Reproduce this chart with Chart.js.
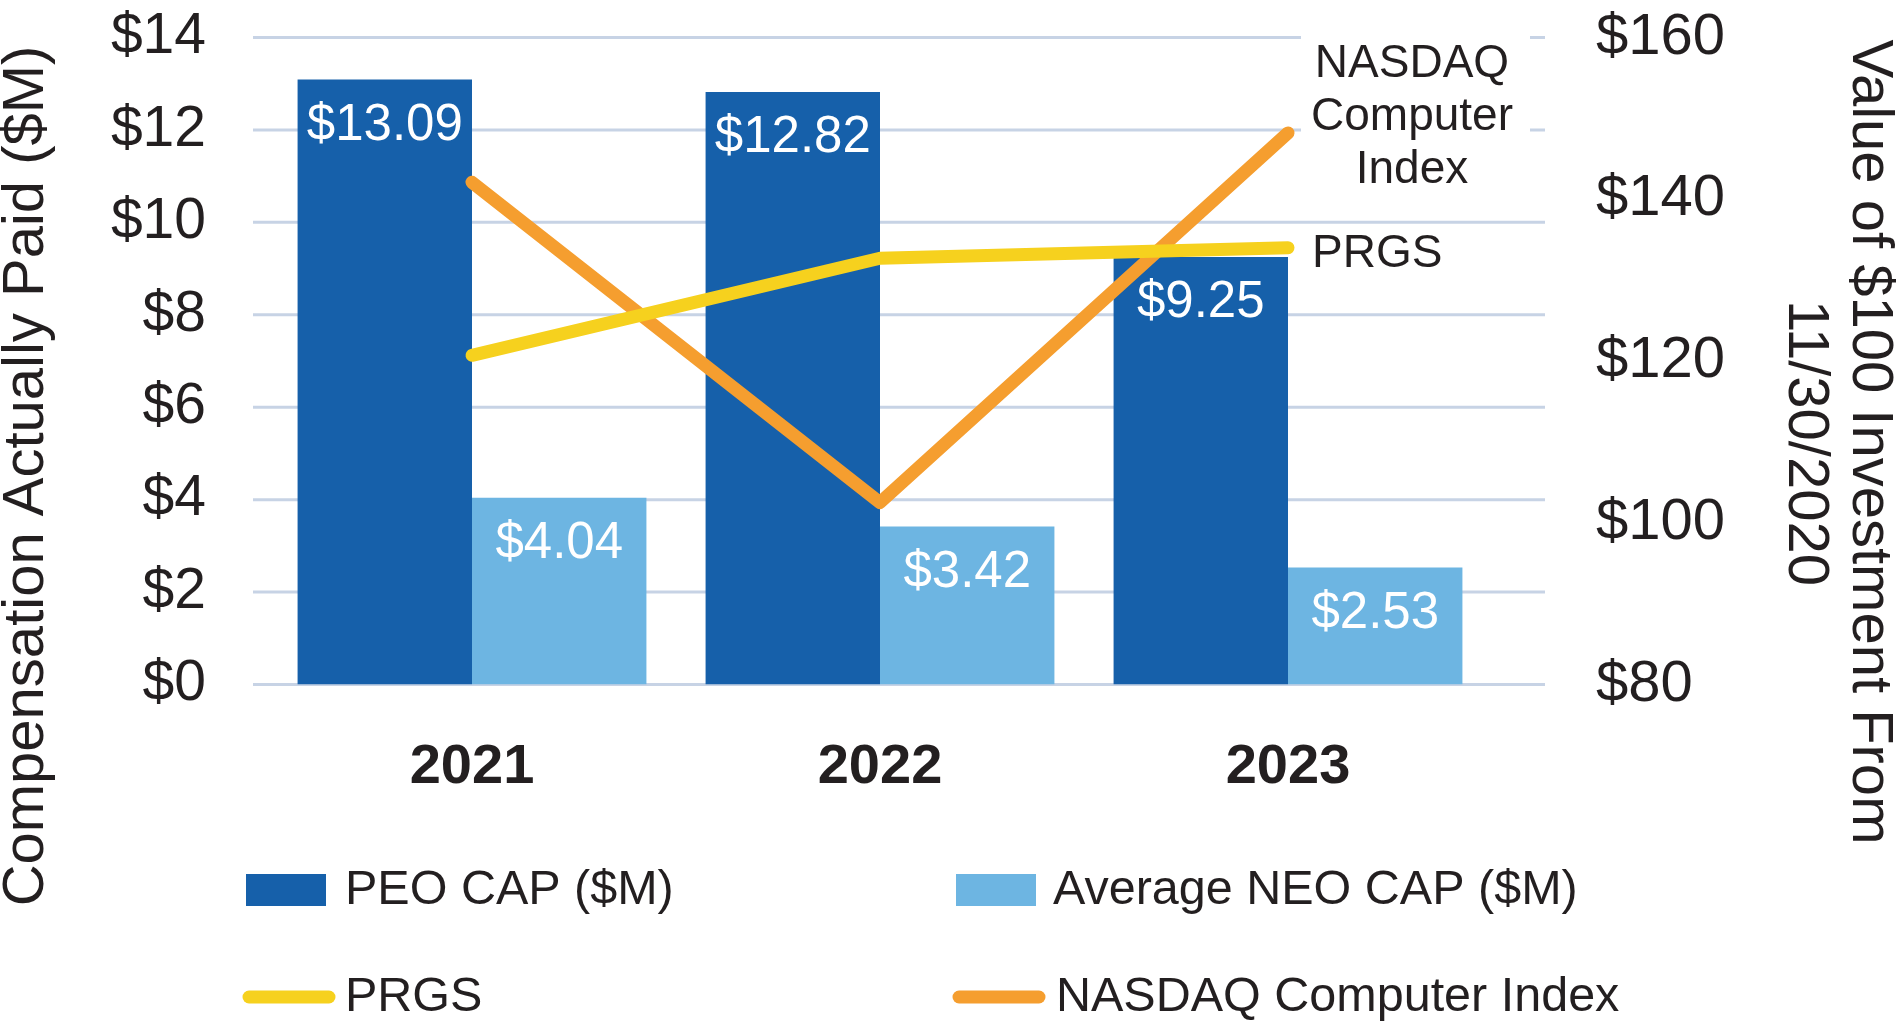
<!DOCTYPE html>
<html>
<head>
<meta charset="utf-8">
<script src="https://cdn.jsdelivr.net/npm/chart.js@4.4.1/dist/chart.umd.min.js"></script>
<style>
  html, body { margin: 0; padding: 0; background: #fff; }
  #wrap { position: relative; width: 1903px; height: 1025px; }
</style>
</head>
<body>
<div id="wrap"><canvas id="myChart"></canvas></div>
<script>
// 資料
var years = ['2021', '2022', '2023'];
var peoCap = [13.09, 12.82, 9.25];
var neoCap = [4.04, 3.42, 2.53];
var prgs = [120.7, 132.7, 134.0];
var nasdaq = [142.1, 102.5, 148.2];
var leftTicks = [0, 2, 4, 6, 8, 10, 12, 14];
var rightTicks = [80, 100, 120, 140, 160];

var FONT = "'Liberation Sans', Arial, Helvetica, sans-serif";
var TEXT = '#231F20';
Chart.defaults.font.family = FONT;

// 格線 + 右側標註
const decor = {
    id: 'decor',
    beforeDatasetsDraw: (chart) => {
        const ctx = chart.ctx;
        const area = chart.chartArea;
        const y = chart.scales.y;
        ctx.save();
        ctx.strokeStyle = '#C7D3E5';
        ctx.lineWidth = 3;
        y.ticks.forEach(function (t) {
            var py = y.getPixelForValue(t.value);
            ctx.beginPath();
            ctx.moveTo(area.left - 15, py);
            ctx.lineTo(area.right + 53, py);
            ctx.stroke();
        });
        // 標註背後的白底
        var last = chart.getDatasetMeta(3).data[2];
        ctx.fillStyle = '#fff';
        ctx.fillRect(last.x + 13, last.y - 108, 229, 175);
        ctx.restore();
    },
    afterDatasetsDraw: (chart) => {
        const ctx = chart.ctx;
        ctx.save();
        // 長條數值
        ctx.fillStyle = '#fff';
        ctx.font = '51px ' + FONT;
        ctx.textAlign = 'center';
        ctx.textBaseline = 'middle';
        [0, 1].forEach(function (i) {
            var ds = chart.data.datasets[i];
            chart.getDatasetMeta(i).data.forEach(function (bar, j) {
                ctx.fillText('$' + ds.data[j].toFixed(2), bar.x, bar.y + 46);
            });
        });
        // 線的標註
        ctx.fillStyle = TEXT;
        ctx.font = '46px ' + FONT;
        var n = chart.getDatasetMeta(3).data[2];
        ctx.textAlign = 'center';
        ['NASDAQ', 'Computer', 'Index'].forEach(function (s, k) {
            ctx.fillText(s, n.x + 124, n.y - 69 + k * 53);
        });
        var p = chart.getDatasetMeta(2).data[2];
        ctx.textAlign = 'left';
        ctx.fillText('PRGS', p.x + 24, p.y + 7);
        ctx.restore();
    },
    afterDraw: (chart) => {
        const ctx = chart.ctx;
        ctx.save();
        ctx.fillStyle = TEXT;
        ctx.textAlign = 'center';
        ctx.textBaseline = 'middle';
        ctx.font = '58px ' + FONT;
        // 左軸標題
        ctx.save();
        ctx.translate(27, 476);
        ctx.rotate(-Math.PI / 2);
        ctx.fillText('Compensation Actually Paid ($M)', 0, 0);
        ctx.restore();
        // 右軸標題
        ctx.save();
        ctx.translate(1869, 442);
        ctx.rotate(Math.PI / 2);
        ctx.fillText('Value of $100 Investment From', 0, 0);
        ctx.restore();
        ctx.save();
        ctx.translate(1805, 443);
        ctx.rotate(Math.PI / 2);
        ctx.fillText('11/30/2020', 0, 0);
        ctx.restore();
        // 圖例
        var spots = [[246, 890, 99], [956, 890, 97], [246, 997, 99], [956, 997, 100]];
        ctx.font = '48.5px ' + FONT;
        ctx.textAlign = 'left';
        chart.data.datasets.forEach(function (ds, i) {
            var x = spots[i][0], yy = spots[i][1];
            if (ds.type === 'line') {
                ctx.strokeStyle = ds.borderColor;
                ctx.lineWidth = 13;
                ctx.lineCap = 'round';
                ctx.beginPath();
                ctx.moveTo(x + 3, yy);
                ctx.lineTo(x + 83, yy);
                ctx.stroke();
            } else {
                ctx.fillStyle = ds.backgroundColor;
                ctx.fillRect(x, yy - 16, 80, 32);
            }
            ctx.fillStyle = TEXT;
            ctx.fillText(ds.label, x + spots[i][2], yy + 1);
        });
        ctx.restore();
    }
};

var ctx = document.getElementById('myChart');
var myChart = new Chart(ctx, {
    data: {
        labels: years,
        datasets: [
            { type: 'bar', label: 'PEO CAP ($M)', data: peoCap, backgroundColor: '#1660AA', yAxisID: 'y', order: 3,
              categoryPercentage: 0.855, barPercentage: 1.0 },
            { type: 'bar', label: 'Average NEO CAP ($M)', data: neoCap, backgroundColor: '#6DB5E2', yAxisID: 'y', order: 3,
              categoryPercentage: 0.855, barPercentage: 1.0 },
            { type: 'line', label: 'PRGS', data: prgs, borderColor: '#F6D11E', yAxisID: 'y1', order: 0,
              borderWidth: 13, pointRadius: 0, tension: 0, borderCapStyle: 'round', borderJoinStyle: 'round' },
            { type: 'line', label: 'NASDAQ Computer Index', data: nasdaq, borderColor: '#F59E2F', yAxisID: 'y1', order: 1,
              borderWidth: 13, pointRadius: 0, tension: 0, borderCapStyle: 'round', borderJoinStyle: 'round' }
        ]
    },
    options: {
        responsive: true,
        maintainAspectRatio: false, // 用父層寬高
        animation: false,
        layout: { padding: { top: 37.5, left: 0, right: 0, bottom: 220.5 } },
        plugins: {
            legend: { display: false },
            tooltip: { enabled: false }
        },
        scales: {
            x: {
                offset: true,
                grid: { display: false, drawTicks: false },
                border: { display: false },
                ticks: { color: TEXT, padding: 49, font: { size: 56, weight: 'bold' } },
                afterFit: (s) => { s.height = 120; s.paddingLeft = 0; s.paddingRight = 0; }
            },
            y: {
                position: 'left',
                min: 0,
                max: 14,
                grid: { display: false, drawTicks: false },
                border: { display: false },
                afterBuildTicks: (s) => { s.ticks = leftTicks.map(v => ({ value: v })); },
                ticks: { color: TEXT, padding: 62, font: { size: 57 }, callback: (v) => '$' + v },
                afterFit: (s) => { s.width = 268; s.paddingTop = 0; s.paddingBottom = 0; }
            },
            y1: {
                position: 'right',
                min: 80,
                max: 160,
                grid: { display: false, drawTicks: false },
                border: { display: false },
                afterBuildTicks: (s) => { s.ticks = rightTicks.map(v => ({ value: v })); },
                ticks: { color: TEXT, padding: 104, font: { size: 58 }, callback: (v) => '$' + v },
                afterFit: (s) => { s.width = 411; s.paddingTop = 0; s.paddingBottom = 0; }
            }
        }
    },
    plugins: [decor]
});
</script>
</body>
</html>
